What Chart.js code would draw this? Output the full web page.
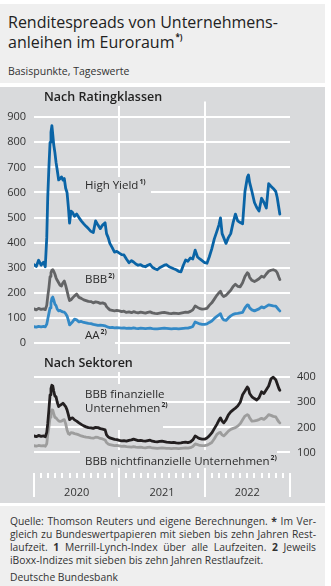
<!DOCTYPE html>
<html><head><meta charset="utf-8">
<script src="https://cdn.jsdelivr.net/npm/chart.js@4/dist/chart.umd.min.js"></script>
<style>
html,body{margin:0;padding:0;background:#fff;width:331px;height:586px;overflow:hidden;font-family:"Open Sans",sans-serif;color:#2a2a2a}
.panel{position:absolute;left:0;width:325px}
#titlePanel{top:4px;height:79px;background:#efefef}
#chartPanel{top:87px;height:416px;background:#d9dadc}
#footPanel{top:506px;height:80px;background:#efefef}
.t{position:absolute;white-space:nowrap;line-height:1}
sup{font-size:0.6em;font-weight:700;vertical-align:0;position:relative;top:-0.7em;margin-left:1px}
.fl{position:absolute;left:10px;width:306px;font-size:10.3px;line-height:1;text-align:justify;text-align-last:justify;white-space:nowrap;color:#333}
canvas{position:absolute;left:0;top:87px}
</style></head>
<body>
<div class="panel" id="titlePanel"></div>
<div class="panel" id="chartPanel"></div>
<div class="panel" id="footPanel"></div>
<div class="t" style="left:8px;top:14px;font-size:16px;color:#222">Renditespreads von Unternehmens-</div>
<div class="t" style="left:8px;top:34px;font-size:16px;color:#222">anleihen im Euroraum<sup style="font-size:8px;top:-8px">*)</sup></div>
<div class="t" style="left:8px;top:66px;font-size:10.5px;color:#333">Basispunkte, Tageswerte</div>
<canvas id="c" width="325" height="416"></canvas>
<div class="t" style="left:44px;top:91px;font-size:12.5px;font-weight:600;color:#222">Nach Ratingklassen</div>
<div class="t" style="left:85px;top:179px;font-size:11.5px">High Yield<sup>1)</sup></div>
<div class="t" style="left:85px;top:273px;font-size:11.5px">BBB<sup>2)</sup></div>
<div class="t" style="left:85px;top:329px;font-size:11.5px">AA<sup>2)</sup></div>
<div class="t" style="left:44px;top:357px;font-size:12.5px;font-weight:600;color:#222">Nach Sektoren</div>
<div class="t" style="left:85px;top:388px;font-size:11.5px">BBB finanzielle</div>
<div class="t" style="left:85px;top:402px;font-size:11.5px">Unternehmen<sup>2)</sup></div>
<div class="t" style="left:85px;top:455px;font-size:11.5px">BBB nichtfinanzielle Unternehmen<sup>2)</sup></div>
<div class="fl" style="top:516px">Quelle: Thomson Reuters und eigene Berechnungen. <b>*</b> Im Ver-</div>
<div class="fl" style="top:529px">gleich zu Bundeswertpapieren mit sieben bis zehn Jahren Rest-</div>
<div class="fl" style="top:542px">laufzeit. <b>1</b> Merrill-Lynch-Index über alle Laufzeiten. <b>2</b> Jeweils</div>
<div class="fl" style="top:555px;text-align:left;text-align-last:left">iBoxx-Indizes mit sieben bis zehn Jahren Restlaufzeit.</div>
<div class="fl" style="top:572px;text-align:left;text-align-last:left">Deutsche Bundesbank</div>
<script>
const dates = [
'2020-01-01','2020-01-11','2020-01-21','2020-02-01','2020-02-11','2020-02-18','2020-02-24','2020-02-28','2020-03-04','2020-03-09','2020-03-13','2020-03-17','2020-03-21','2020-03-25','2020-03-30','2020-04-04','2020-04-09','2020-04-15','2020-04-21','2020-04-27','2020-05-03','2020-05-09','2020-05-15','2020-05-21','2020-05-27','2020-06-01','2020-06-07','2020-06-14','2020-06-22','2020-07-01','2020-07-11','2020-07-21','2020-08-01','2020-08-11','2020-08-21','2020-09-01','2020-09-11','2020-09-21','2020-10-01','2020-10-11','2020-10-21','2020-11-01','2020-11-07','2020-11-14','2020-11-21','2020-12-01','2020-12-11','2020-12-21',
'2021-01-01','2021-01-11','2021-01-21','2021-02-01','2021-02-11','2021-02-21','2021-03-01','2021-03-11','2021-03-21','2021-04-01','2021-04-11','2021-04-21','2021-05-01','2021-05-11','2021-05-21','2021-06-01','2021-06-11','2021-06-21','2021-07-01','2021-07-11','2021-07-21','2021-08-01','2021-08-11','2021-08-21','2021-09-01','2021-09-11','2021-09-21','2021-10-01','2021-10-11','2021-10-21','2021-11-01','2021-11-11','2021-11-21','2021-12-01','2021-12-11','2021-12-21',
'2022-01-01','2022-01-11','2022-01-21','2022-02-01','2022-02-11','2022-02-21','2022-03-01','2022-03-08','2022-03-15','2022-03-22','2022-04-01','2022-04-11','2022-04-21','2022-05-01','2022-05-11','2022-05-21','2022-06-01','2022-06-11','2022-06-21','2022-07-01','2022-07-06','2022-07-11','2022-07-21','2022-08-01','2022-08-11','2022-08-21','2022-09-01','2022-09-11','2022-09-21','2022-10-01','2022-10-11','2022-10-21','2022-11-01','2022-11-07','2022-11-14','2022-11-18'];

const highYield = [
312,305,330,310,322,304,420,580,700,800,840,866,830,790,760,720,690,650,655,662,650,656,617,600,540,478,526,520,505,514,500,487,475,465,456,445,440,487,470,456,470,479,436,420,397,380,362,365,
358,352,351,335,320,328,323,315,310,312,306,304,310,314,302,296,292,300,305,310,312,304,300,296,292,286,284,310,331,326,339,335,370,343,335,328,
320,318,343,375,415,445,470,499,436,420,397,420,436,480,514,487,480,475,604,660,670,640,604,560,540,526,577,560,538,635,625,616,604,580,538,514];

const bbb = [
136,132,138,134,136,133,150,185,220,265,280,290,292,286,275,260,250,240,230,227,240,247,230,208,185,169,172,180,188,195,182,178,172,169,166,165,160,164,162,158,160,156,145,138,132,130,128,130,
128,125,127,122,124,121,125,122,120,123,121,119,122,124,120,118,117,119,121,122,120,118,117,119,118,117,119,121,123,122,126,132,148,142,137,135,
136,138,150,160,175,190,200,206,192,185,190,200,210,225,234,226,224,240,265,280,276,262,250,245,250,256,266,262,275,286,290,292,288,280,262,253];

const aa = [
65,63,66,64,66,64,75,95,118,140,160,178,183,172,155,149,135,128,130,126,124,123,117,108,90,72,78,85,95,92,84,86,82,80,78,77,74,72,70,71,70,68,66,63,61,62,60,61,
60,59,60,58,59,58,60,58,57,59,58,57,58,59,57,56,56,57,58,59,58,57,56,57,57,56,57,58,59,59,62,66,84,80,76,74,
74,76,82,88,98,106,112,117,100,92,90,100,108,114,117,118,120,122,140,152,150,140,132,128,132,136,144,140,146,152,150,148,147,140,132,128];

const bbbFinancial = [
166,163,168,164,166,163,180,215,270,330,355,368,365,345,325,322,300,283,288,292,296,290,283,270,250,231,236,238,230,225,218,212,206,202,199,198,196,200,199,195,193,190,170,162,158,155,152,151,
148,146,147,145,148,150,153,150,147,148,146,145,147,149,145,143,142,144,145,143,141,140,139,140,138,137,138,140,141,139,142,150,166,160,155,153,
153,158,166,178,195,212,228,238,225,218,230,250,262,270,277,285,300,330,345,361,355,335,322,315,309,318,342,335,350,365,393,400,390,374,355,348];

const bbbNonFinancial = [
127,125,128,126,127,125,135,170,200,240,258,270,268,255,240,238,232,226,224,225,229,231,215,190,175,172,179,178,175,173,170,166,163,161,160,158,157,161,160,156,154,150,140,134,131,129,127,128,
126,124,125,123,122,121,123,121,120,121,119,118,120,121,118,117,116,117,118,117,116,116,115,116,116,115,116,117,118,117,119,124,134,131,128,127,
127,129,134,140,155,172,178,180,170,166,175,185,192,196,199,205,215,230,245,251,248,238,225,226,228,231,236,232,240,251,248,244,242,232,222,218];

const yearLabels = ['2020','2021','2022'];
const ratingTicks = [0,100,200,300,400,500,600,700,800,900];
const sectorTicks = [100,200,300,400];

function toMonths(s){const [y,m,d]=s.split('-').map(Number);const dim=new Date(y,m,0).getDate();return (y-2020)*12+(m-1)+(d-1)/dim;}
const xs = dates.map(toMonths);
const pts = arr => arr.map((v,i)=>({x:xs[i],y:v}));

const PANEL = '#d9dadc';
const CANVAS_TOP = 87;
// label backgrounds (page coords: x, y, w, h) that hide grid lines
const masks = [[42,88,120,18],[80,177,71,16],[80,331,35,15],[42,354,92,18],[58,384,105,30],[85,414,78,16],[80,450,197,18]];
const maskPlugin = {id:'masks', beforeDatasetsDraw(chart){const c=chart.ctx;c.save();c.fillStyle=PANEL;masks.forEach(m=>c.fillRect(m[0],m[1]-CANVAS_TOP,m[2],m[3]));c.restore();}};

const tickFont = {family:'"Open Sans", sans-serif', size:11};
new Chart(document.getElementById('c'), {
  type:'line',
  data:{datasets:[
    {data:pts(highYield), yAxisID:'y', borderColor:'#0a64a6'},
    {data:pts(bbb), yAxisID:'y', borderColor:'#636466'},
    {data:pts(aa), yAxisID:'y', borderColor:'#3389c6'},
    {data:pts(bbbFinancial), yAxisID:'y2', borderColor:'#231f20'},
    {data:pts(bbbNonFinancial), yAxisID:'y2', borderColor:'#9d9d9d'}
  ]},
  options:{
    responsive:false, animation:false, devicePixelRatio:1,
    layout:{padding:{top:6,left:0,right:0,bottom:0}},
    plugins:{legend:{display:false}, tooltip:{enabled:false}},
    elements:{point:{radius:0}, line:{borderWidth:2.8, tension:0, borderJoinStyle:'round', borderCapStyle:'round'}},
    scales:{
      x:{type:'linear', min:0, max:36, border:{display:false},
        afterBuildTicks: ax => { ax.ticks = Array.from({length:37},(_,i)=>({value:i})); },
        afterFit: ax => { ax.height = 30; },
        grid:{
          color: ctx => (ctx.tick && (ctx.tick.value===12 || ctx.tick.value===24)) ? '#ffffff' : 'rgba(0,0,0,0)',
          lineWidth:2, tickLength:24, tickWidth:2, tickColor:'#ffffff',
          tickBorderDash: ctx => (ctx.tick && ctx.tick.value%12===0) ? [] : [5,60]
        },
        ticks:{autoSkip:false, maxRotation:0, minRotation:0, padding:-11, color:'#333', font:tickFont,
          callback: v => (v%12===6) ? yearLabels[(v-6)/12] : ''}
      },
      y:{position:'left', min:-518.2, max:962.3, border:{display:false},
        afterBuildTicks: ax => { ax.ticks = ratingTicks.map(v=>({value:v})); },
        afterFit: ax => { ax.width = 34; },
        grid:{color:'#ffffff', lineWidth:2, drawTicks:false},
        ticks:{padding:8, color:'#333', font:tickFont}
      },
      y2:{position:'right', min:18.2, max:1498.7, border:{display:false},
        afterBuildTicks: ax => { ax.ticks = sectorTicks.map(v=>({value:v})); },
        afterFit: ax => { ax.width = 35; },
        grid:{color:'#ffffff', lineWidth:2, drawTicks:false},
        ticks:{padding:7, color:'#333', font:tickFont}
      }
    }
  },
  plugins:[maskPlugin]
});
</script>
</body></html>
